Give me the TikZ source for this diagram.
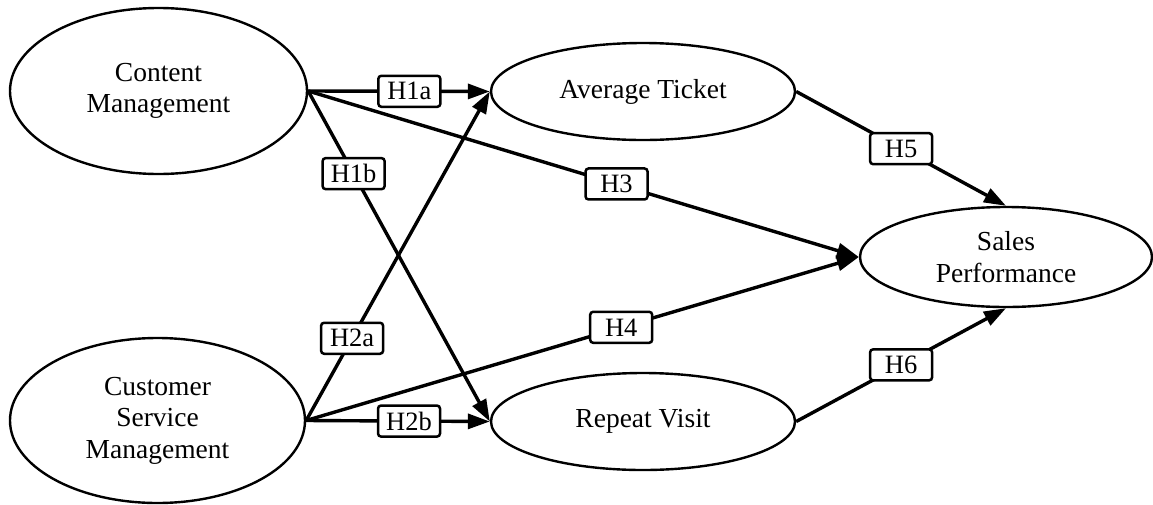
\documentclass[tikz,border=0pt]{standalone}
\usepackage{fontspec}
\setmainfont{Liberation Serif}
\usetikzlibrary{shapes.geometric,arrows.meta}
\begin{document}
\begin{tikzpicture}[x=1pt,y=-1pt,
  ell/.style={ellipse,draw,line width=2.4pt,inner sep=0pt,align=center,font=\fontsize{27.5}{31.5}\selectfont},
  lbl/.style={draw,fill=white,rounded corners=3pt,line width=2.5pt,minimum width=62pt,minimum height=31pt,inner sep=0pt,font=\fontsize{26.5}{28}\selectfont},
  conn/.style={line width=3.4pt,-{Triangle[length=22pt,width=15pt]}}]
\useasboundingbox (0,0) rectangle (1153,504);
\node[ell,minimum width=297pt,minimum height=166pt] (cm) at (158.5,91) {Content\\Management};
\node[ell,minimum width=295pt,minimum height=165pt] (csm) at (157.5,420.5) {Customer\\Service\\Management};
\node[ell,minimum width=304pt,minimum height=97pt] (at) at (643,91.5) {\raisebox{4pt}{Average Ticket}};
\node[ell,minimum width=304pt,minimum height=97pt] (rv) at (643,421.5) {\raisebox{4pt}{Repeat Visit}};
\node[ell,minimum width=292pt,minimum height=100pt] (sp) at (1006,257) {Sales\\Performance};
\draw[conn] (cm.east) -- node[lbl,pos=0.557]{H1a} (at.west);
\draw[conn] (cm.east) -- node[lbl,pos=0.25]{H1b} (rv.west);
\draw[conn] (cm.east) -- node[lbl,pos=0.56]{H3} (sp.west);
\draw[conn] (csm.east) -- node[lbl,pos=0.25]{H2a} (at.west);
\draw[conn] (csm.east) -- node[lbl,pos=0.56]{H2b} (rv.west);
\draw[conn] (csm.east) -- node[lbl,pos=0.57]{H4} (sp.west);
\draw[conn] (at.east) -- node[lbl,pos=0.5]{H5} (sp.north);
\draw[conn] (rv.east) -- node[lbl,pos=0.5]{H6} (sp.south);
\end{tikzpicture}
\end{document}
